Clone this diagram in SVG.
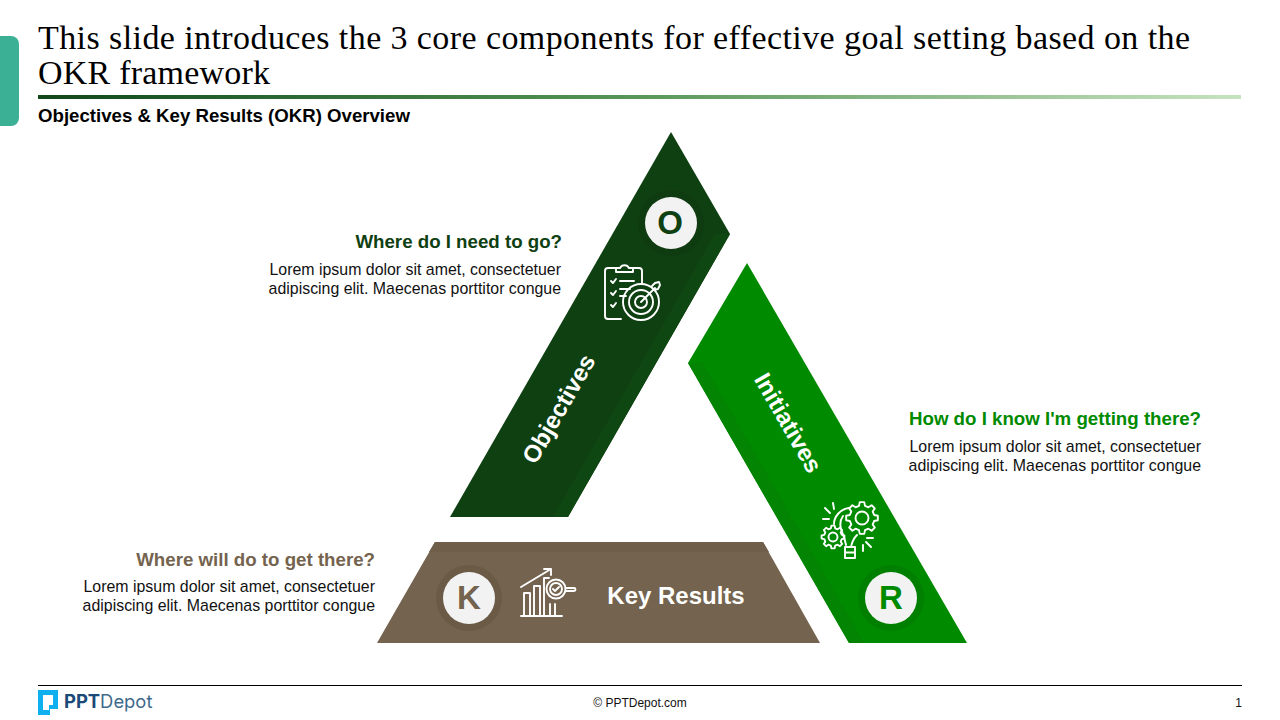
<svg xmlns="http://www.w3.org/2000/svg" width="1280" height="720" viewBox="0 0 1280 720">
<style>
text{font-family:"Liberation Sans",Arial,sans-serif}
.title{font-family:"Liberation Serif","Times New Roman",serif;font-size:34px;fill:#000}
.q{font-size:18.7px;font-weight:bold;text-anchor:end}
.b{font-size:15.9px;fill:#111;text-anchor:end}
.lab{font-size:24px;font-weight:bold;fill:#fff;text-anchor:middle}
.let{font-size:33px;font-weight:bold;text-anchor:middle}
.ic{fill:none;stroke:#fff;stroke-width:1.9;stroke-linecap:round;stroke-linejoin:round}
</style>
<defs>
<linearGradient id="rule" x1="0" x2="1" y1="0" y2="0"><stop offset="0" stop-color="#10471a"/><stop offset=".45" stop-color="#4f8f50"/><stop offset="1" stop-color="#c6e3bf"/></linearGradient>
<polygon id="gear" vector-effect="non-scaling-stroke" points="12.13,-3.02 15.84,-2.23 15.84,2.23 12.13,3.02 10.71,6.44 12.78,9.63 9.63,12.78 6.44,10.71 3.02,12.13 2.23,15.84 -2.23,15.84 -3.02,12.13 -6.44,10.71 -9.63,12.78 -12.78,9.63 -10.71,6.44 -12.13,3.02 -15.84,2.23 -15.84,-2.23 -12.13,-3.02 -10.71,-6.44 -12.78,-9.63 -9.63,-12.78 -6.44,-10.71 -3.02,-12.13 -2.23,-15.84 2.23,-15.84 3.02,-12.13 6.44,-10.71 9.63,-12.78 12.78,-9.63 10.71,-6.44"/>
</defs>
<rect width="1280" height="720" fill="#fff"/>
<g id="header">
<rect x="-10" y="36" width="29" height="90" rx="8" fill="#3cb094"/>
<text class="title" x="38" y="49" textLength="1152" lengthAdjust="spacing">This slide introduces the 3 core components for effective goal setting based on the</text>
<text class="title" x="38" y="84" textLength="232" lengthAdjust="spacing">OKR framework</text>
<rect x="38" y="95" width="1203" height="4" fill="url(#rule)"/>
<text x="38" y="122" font-size="18.65" font-weight="bold" fill="#000">Objectives &amp; Key Results (OKR) Overview</text>
</g>
<g id="node-objectives">
<polygon points="671,132 730,234 568,517 450,517" fill="#0f4012"/>
<polygon points="730,234 568,517 553,517 715,234" fill="#0f4712"/>
<circle cx="671" cy="223" r="33" fill="#0f3b11"/>
<circle cx="671" cy="223" r="26" fill="#f2f2f2"/>
<text class="let" x="670" y="234" fill="#0f4012">O</text>
<text class="lab" transform="translate(559 409) rotate(-60)" y="8">Objectives</text>
<g class="ic">
<path d="M621 319H608a3 3 0 0 1-3-3V271a3 3 0 0 1 3-3h8M633 268h6a3 3 0 0 1 3 3v13"/>
<path d="M616 271v-3h4a5 5 0 0 1 9 0h4v4h-17z"/>
<path d="M611 281l2 2 3-4M611 293l2 2 3-4M611 305l2 2 3-4M620 281h14M620 289h10M620 296h6"/>
<circle cx="641" cy="302" r="18"/><circle cx="641" cy="302" r="12"/><circle cx="641" cy="302" r="6"/>
<path d="M641 302l14-14M652 286l3-3 4-1 1 3-2 4-4 1"/>
</g>
<text class="q" x="562" y="248" fill="#0f4012">Where do I need to go?</text>
<text class="b" x="561" y="275">Lorem ipsum dolor sit amet, consectetuer</text>
<text class="b" x="561" y="294">adipiscing elit. Maecenas porttitor congue</text>
</g>
<g id="node-initiatives">
<polygon points="747,263 688,363 849,643 967,643" fill="#008a00"/>
<polygon points="688,363 849,643 864,643 703,363" fill="#038403"/>
<circle cx="891" cy="598" r="33" fill="#007f00"/>
<circle cx="891" cy="598" r="26" fill="#f2f2f2"/>
<text class="let" x="891" y="609" fill="#008a00">R</text>
<text class="lab" transform="translate(788 423) rotate(60)" y="8">Initiatives</text>
<g class="ic">
<use href="#gear" transform="translate(862 518)"/>
<circle cx="862" cy="518" r="6.5"/>
<use href="#gear" transform="translate(833 537) scale(.72)"/>
<circle cx="833" cy="537" r="4.5"/>
<path d="M849 508c-9 1-15 9-15 16M843 516c-3 4-3 9-2 13 2 6 4 10 5 16M851 547c1-5 3-9 6-12"/>
<path d="M845 547h10v11h-10zM845 552.500h10"/>
<path d="M825 508l5 5M833 503l1 6M823 519h6M867 538h6M866 542l5 5M863 545v6"/>
</g>
<text class="q" x="1201" y="425" fill="#008a00">How do I know I'm getting there?</text>
<text class="b" x="1201" y="452">Lorem ipsum dolor sit amet, consectetuer</text>
<text class="b" x="1201" y="471">adipiscing elit. Maecenas porttitor congue</text>
</g>
<g id="node-keyresults">
<polygon points="435,542 763,542 820,643 377,643" fill="#74634e"/>
<polygon points="435,542 763,542 769,552 429,552" fill="#6f5e49"/>
<circle cx="469" cy="598" r="33" fill="#6b5a45"/>
<circle cx="469" cy="598" r="26" fill="#f2f2f2"/>
<text class="let" x="469" y="609" fill="#74634e">K</text>
<text class="lab" x="676" y="604">Key Results</text>
<g class="ic">
<path d="M521 616h41M524 616V593h6v23M534 616V586h6v30M544 616V578h5M550 616V604M555 616V604"/>
<path d="M521 587l30-18M544 569h7v6"/>
<circle cx="556" cy="589" r="9.500"/><circle cx="556" cy="589" r="6"/>
<path d="M553 589l2 2 4-4"/>
<path d="M566 588h8a1.500 1.500 0 0 1 0 3h-8"/>
</g>
<text class="q" x="375" y="566" fill="#74634e">Where will do to get there?</text>
<text class="b" x="375" y="592">Lorem ipsum dolor sit amet, consectetuer</text>
<text class="b" x="375" y="611">adipiscing elit. Maecenas porttitor congue</text>
</g>
<g id="footer">
<rect x="38" y="685" width="1204" height="1" fill="#000"/>
<path d="M38 690h20v19h-8v6H38zM43 695v15h6v-5h4v-10z" fill="#0eb0f0" fill-rule="evenodd"/>
<text x="64" y="708" font-size="18.4" font-weight="bold" fill="#1b4a78" style="font-family:Inter,sans-serif">PPT<tspan font-weight="400" fill="#3f6a8c">Depot</tspan></text>
<text x="640" y="707" font-size="12" fill="#111" text-anchor="middle">© PPTDepot.com</text>
<text x="1242" y="707" font-size="12" fill="#111" text-anchor="end">1</text>
</g>
</svg>
